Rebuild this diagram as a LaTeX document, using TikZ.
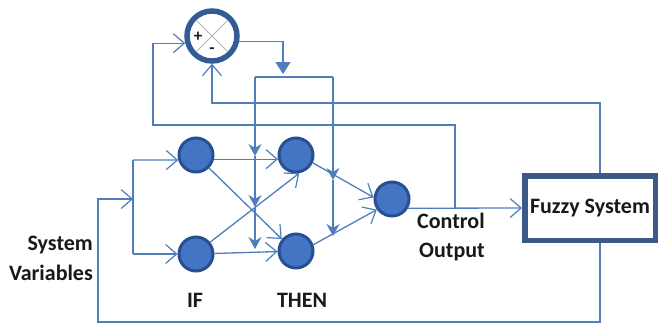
\documentclass[tikz,border=0pt]{standalone}
\usepackage{fontspec}
\setmainfont{Carlito}
\usetikzlibrary{arrows.meta}
\definecolor{wire}{RGB}{80,126,188}
\definecolor{nodefill}{RGB}{68,116,196}
\definecolor{nodeedge}{RGB}{40,80,145}
\definecolor{ring}{RGB}{52,92,148}
\definecolor{boxedge}{RGB}{60,90,135}
\definecolor{crossline}{RGB}{175,180,190}
\definecolor{ink}{RGB}{25,25,25}

\begin{document}
\begin{tikzpicture}[x=1pt,y=-1pt,
  wireline/.style={draw=wire,line width=1.3pt},
  openhead/.style={wireline,-{Straight Barb[length=11pt,width=19pt,line width=1.2pt]}},
  solidhead/.style={wireline,-{Stealth[length=12pt,width=13pt,inset=4pt]}},
  tri/.style={wireline,-{Triangle[length=12pt,width=15pt]}},
  neuron/.style={circle,fill=nodefill,draw=nodeedge,line width=3pt,minimum size=34pt,inner sep=0pt},
  txt/.style={font=\bfseries\fontsize{22}{26}\selectfont,text=ink,inner sep=0pt}
]
\useasboundingbox[fill=white] (0,0) rectangle (662,325);

% summing junction
\node[circle,draw=ring,fill=white,line width=5.5pt,minimum size=50pt,inner sep=0pt] (J) at (212,36) {};
\draw[crossline,line width=1pt] (196,20) -- (228,52) (228,20) -- (196,52);
\node[txt,font=\bfseries\fontsize{17}{17}\selectfont] (plus) at (198,37) {+};
\node[txt,font=\bfseries\fontsize{17}{17}\selectfont] (minus) at (212,51) {-};

% neurons
\node[neuron] (IF1) at (196,155) {};
\node[neuron] (IF2) at (196,254) {};
\node[neuron] (TH1) at (296,155) {};
\node[neuron] (TH2) at (296,251) {};
\node[neuron] (out) at (392,199) {};

% plant
\node[draw=boxedge,line width=5.5pt,fill=white,minimum width=130.5pt,minimum height=64.5pt,inner sep=0pt,txt] (fz) at (590,208) {Fuzzy System};

% labels
\node[txt,anchor=base east] (sv1) at (93,250) {System};
\node[txt,anchor=base east] (sv2) at (93,280) {Variables};
\node[txt] (lif) at (195,300) {IF};
\node[txt] (lthen) at (302,300) {THEN};
\node[txt,anchor=base west] (co1) at (417,228) {Control};
\node[txt,anchor=base west] (co2) at (419,257) {Output};

% routing points
\coordinate (fbA) at (455,208);
\coordinate (fbB) at (455,125);
\coordinate (fbC) at (153,125);
\coordinate (r1) at (600,103);
\coordinate (r2) at (212,103);
\coordinate (jo) at (283,74);
\coordinate (a0) at (255,77);
\coordinate (a1) at (255,156);
\coordinate (a2) at (255,207);
\coordinate (a3) at (255,249);
\coordinate (b0) at (333,77);
\coordinate (b1) at (333,180);
\coordinate (b2) at (333,236);
\coordinate (p1) at (600,322);
\coordinate (p2) at (98,322);
\coordinate (p3) at (98,199);
\coordinate (sp) at (133,199);
\coordinate (s1) at (133,160);
\coordinate (s2) at (133,254);

% feedback loops to the junction
\draw[openhead] (fbA) -- (fbB) -- (fbC) |- (J.195);
\draw[openhead] ([xshift=10pt]fz.north) -- (r1) -- (r2) -- (J.south);

% junction output distributed to the rule layer
\draw[tri] (J.-12) -| (jo);
\draw[wireline] (a0) -- (b0);
\draw[solidhead] (a0) -- (a1);
\draw[solidhead] (a1) -- (a2);
\draw[solidhead] (a2) -- (a3);
\draw[solidhead] (b0) -- (b1);
\draw[solidhead] (b1) -- (b2);

% system variables input
\draw[openhead] ([xshift=10pt]fz.south) -- (p1) -- (p2) -- (p3) -- (sp);
\draw[wireline] (s1) -- (s2);
\draw[openhead] (s1) -- (IF1.196);
\draw[openhead] (s2) -- (IF2.west);

% rule connections
\draw[openhead] (IF1.-13) -- (TH1.193);
\draw[openhead] (IF2) -- (TH2);
\draw[openhead] (IF1.-45) -- (TH2.140);
\draw[openhead] (IF2.40) -- (TH1.-80);
\draw[openhead] (TH1.-25) -- (out.175);
\draw[openhead] (TH2.20) -- (out.-145);

% control output
\draw[openhead] (out.-30) -- (fz.west);
\end{tikzpicture}
\end{document}
